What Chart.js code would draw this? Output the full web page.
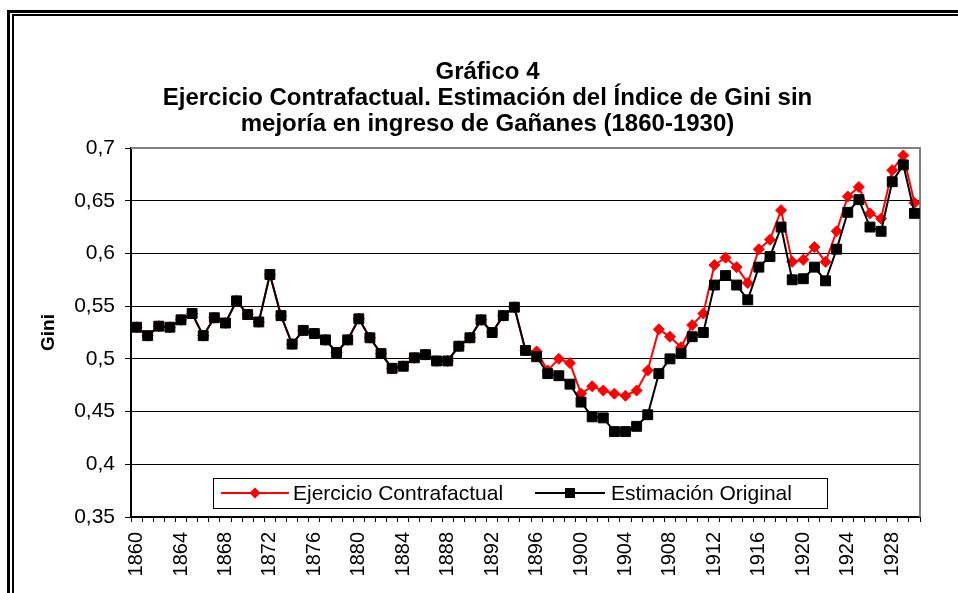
<!DOCTYPE html>
<html>
<head>
<meta charset="utf-8">
<script src="https://cdn.jsdelivr.net/npm/chart.js@4.4.1/dist/chart.umd.min.js"></script>
<style>
  html, body { margin: 0; padding: 0; background: #fff; overflow: hidden; }
  #wrap { position: relative; width: 958px; height: 593px; overflow: hidden; }
  #c { position: absolute; left: 0; top: 0; }
  .f1 { position: absolute; left: 7px; top: 10px; width: 2000px; height: 2000px; border: 3px solid #000; box-sizing: border-box; }
  .f2 { position: absolute; left: 12px; top: 14px; width: 2000px; height: 2000px; border: 2px solid #000; box-sizing: border-box; }
</style>
</head>
<body>
<div id="wrap">
  <canvas id="c" width="958" height="593"></canvas>
  <div class="f1"></div>
  <div class="f2"></div>
</div>
<script>
const years = [];
for (let y = 1860; y <= 1930; y++) years.push(String(y));

const titleLines = [
  'Gráfico 4',
  'Ejercicio Contrafactual. Estimación del Índice de Gini sin',
  'mejoría en ingreso de Gañanes (1860-1930)'
];
const yAxisTitle = 'Gini';
const seriesNames = ['Ejercicio Contrafactual', 'Estimación Original'];

const estimacionOriginal = [
  0.530, 0.522, 0.531, 0.530, 0.537, 0.543, 0.522, 0.539, 0.534, 0.555,
  0.542, 0.535, 0.580, 0.541, 0.514, 0.527, 0.524, 0.518, 0.506, 0.518,
  0.538, 0.520, 0.505, 0.491, 0.493, 0.501, 0.504, 0.498, 0.498, 0.512,
  0.520, 0.537, 0.525, 0.541, 0.549, 0.508, 0.502, 0.486, 0.484, 0.476,
  0.459, 0.445, 0.444, 0.431, 0.431, 0.436, 0.447, 0.486, 0.500, 0.505,
  0.521, 0.525, 0.570, 0.579, 0.570, 0.556, 0.587, 0.597, 0.625, 0.575,
  0.576, 0.587, 0.574, 0.604, 0.639, 0.651, 0.625, 0.621, 0.668, 0.684,
  0.638
];

const ejercicioContrafactual = [
  0.530, 0.522, 0.531, 0.530, 0.537, 0.543, 0.522, 0.539, 0.534, 0.555,
  0.542, 0.535, 0.580, 0.541, 0.514, 0.527, 0.524, 0.518, 0.506, 0.518,
  0.538, 0.520, 0.505, 0.491, 0.493, 0.501, 0.504, 0.498, 0.498, 0.512,
  0.520, 0.537, 0.525, 0.541, 0.549, 0.508, 0.507, 0.489, 0.500, 0.496,
  0.467, 0.474, 0.470, 0.467, 0.465, 0.470, 0.489, 0.528, 0.521, 0.511,
  0.532, 0.543, 0.589, 0.596, 0.587, 0.572, 0.604, 0.613, 0.641, 0.592,
  0.594, 0.606, 0.592, 0.621, 0.654, 0.663, 0.638, 0.633, 0.679, 0.693,
  0.648
];

const FONT = "'Liberation Sans', Arial, Helvetica, sans-serif";

const plotBorder = {
  id: 'plotBorder',
  beforeDatasetsDraw(chart) {
    const { ctx, chartArea: a } = chart;
    ctx.save();
    ctx.strokeStyle = '#808080';
    ctx.lineWidth = 2;
    ctx.beginPath();
    ctx.moveTo(a.left, a.top);
    ctx.lineTo(a.right, a.top);
    ctx.lineTo(a.right, a.bottom);
    ctx.stroke();
    ctx.restore();
  }
};

const boxLegend = {
  id: 'boxLegend',
  afterDatasetsDraw(chart) {
    const ctx = chart.ctx;
    const bx = 213, by = 478, bw = 614, bh = 30;
    const cy = by + bh / 2;
    ctx.save();
    ctx.fillStyle = '#fff';
    ctx.fillRect(bx, by, bw, bh);
    ctx.strokeStyle = '#000';
    ctx.lineWidth = 1;
    ctx.strokeRect(bx + 0.5, by + 0.5, bw, bh);
    const items = [
      { ds: chart.data.datasets[0], x0: 221, x1: 289, tx: 293 },
      { ds: chart.data.datasets[1], x0: 535, x1: 605, tx: 611 }
    ];
    items.forEach(it => {
      const col = it.ds.borderColor;
      ctx.strokeStyle = col;
      ctx.lineWidth = 2;
      ctx.beginPath();
      ctx.moveTo(it.x0, cy);
      ctx.lineTo(it.x1, cy);
      ctx.stroke();
      const mx = (it.x0 + it.x1) / 2;
      ctx.fillStyle = col;
      ctx.beginPath();
      if (it.ds.pointStyle === 'rectRot') {
        const r = 5.5;
        ctx.moveTo(mx, cy - r); ctx.lineTo(mx + r, cy); ctx.lineTo(mx, cy + r); ctx.lineTo(mx - r, cy);
        ctx.closePath();
      } else {
        ctx.rect(mx - 5, cy - 5, 10, 10);
      }
      ctx.fill();
      ctx.fillStyle = '#000';
      ctx.font = '21px ' + FONT;
      ctx.textBaseline = 'middle';
      ctx.textAlign = 'left';
      ctx.fillText(it.ds.label, it.tx, cy + 1);
    });
    ctx.restore();
  }
};

new Chart(document.getElementById('c'), {
  type: 'line',
  data: {
    labels: years,
    datasets: [
      {
        label: seriesNames[0],
        data: ejercicioContrafactual,
        borderColor: '#FF0000',
        backgroundColor: '#FF0000',
        borderWidth: 2,
        pointStyle: 'rectRot',
        pointRadius: 5.5,
        pointBorderWidth: 1,
        pointBorderColor: '#FF0000',
        pointBackgroundColor: '#FF0000',
        tension: 0,
        order: 1
      },
      {
        label: seriesNames[1],
        data: estimacionOriginal,
        borderColor: '#000000',
        backgroundColor: '#000000',
        borderWidth: 2,
        pointStyle: 'rect',
        pointRadius: 7,
        pointBorderWidth: 1,
        pointBorderColor: '#000000',
        pointBackgroundColor: '#000000',
        tension: 0,
        order: 0
      }
    ]
  },
  options: {
    responsive: false,
    animation: false,
    devicePixelRatio: 1,
    layout: { padding: { left: 55, right: 38, top: 0, bottom: 0 } },
    plugins: {
      legend: { display: false },
      tooltip: { enabled: false },
      title: {
        display: true,
        text: titleLines,
        color: '#000',
        font: { family: FONT, size: 24, weight: 'bold', lineHeight: '26px' },
        padding: { top: 59, bottom: 11 }
      }
    },
    scales: {
      x: {
        type: 'category',
        offset: true,
        afterFit(s) { s.height = 76; },
        border: { display: true, color: '#000', width: 2 },
        grid: { display: true, drawOnChartArea: false, drawTicks: true, tickLength: 5, offset: true, color: '#000', tickColor: '#000', tickWidth: 1 },
        ticks: {
          autoSkip: false,
          maxRotation: 90,
          minRotation: 90,
          padding: 10,
          color: '#000',
          font: { family: FONT, size: 20 },
          callback(v, i) { return i % 4 === 0 ? this.getLabelForValue(v) : ''; }
        }
      },
      y: {
        min: 0.35,
        max: 0.7,
        afterFit(s) { s.width = 76; },
        border: { display: true, color: '#000', width: 2 },
        grid: {
          color: (c) => (c.tick && Math.abs(c.tick.value - 0.7) < 1e-6) ? 'rgba(0,0,0,0)' : '#000',
          tickColor: '#000',
          tickLength: 6,
          lineWidth: 1
        },
        ticks: {
          stepSize: 0.05,
          padding: 10,
          color: '#000',
          font: { family: FONT, size: 21 },
          callback(v) { return String(Math.round(v * 100) / 100).replace('.', ','); }
        },
        title: {
          display: true,
          text: yAxisTitle,
          color: '#000',
          font: { family: FONT, size: 19, weight: 'bold' },
          padding: { top: -18, bottom: 0 }
        }
      }
    }
  },
  plugins: [plotBorder, boxLegend]
});
</script>
</body>
</html>
